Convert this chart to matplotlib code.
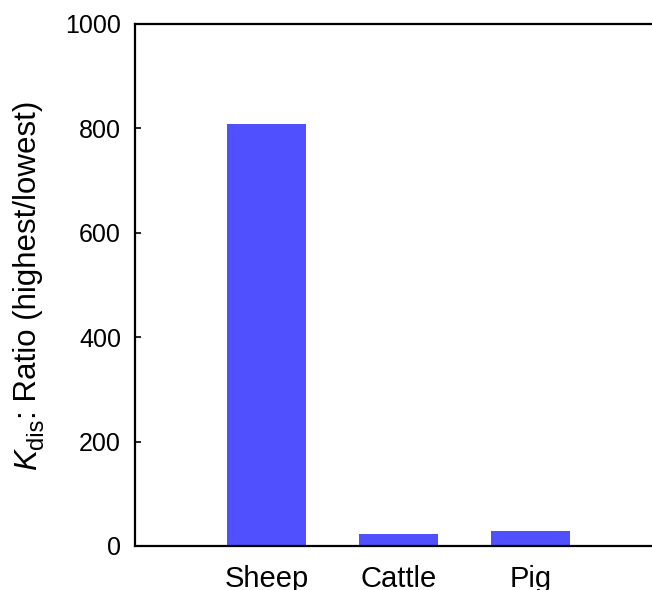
import matplotlib.pyplot as plt

# Data
species = ['Sheep', 'Cattle', 'Pig']
kdis_ratio = [808, 22, 29]
y_ticks = [0, 200, 400, 600, 800, 1000]

plt.rcParams['font.family'] = ['Liberation Sans', 'DejaVu Sans']

fig = plt.figure(figsize=(6.52, 5.90), dpi=100)
ax = fig.add_axes([0.207, 0.0746, 0.793, 0.885])

x = list(range(1, len(species) + 1))
ax.bar(x, kdis_ratio, width=0.6, color='#5050FF')

ax.set_xlim(0, 3.92)
ax.set_ylim(0, 1000)
ax.set_xticks(x)
ax.set_xticklabels(species)
ax.set_yticks(y_ticks)

# Spines: left, bottom and top only
for side in ['left', 'bottom', 'top']:
    ax.spines[side].set_linewidth(1.6)
ax.spines['right'].set_visible(False)

ax.tick_params(axis='y', direction='in', length=4, width=1.2, pad=10, labelsize=18)
ax.tick_params(axis='x', length=0, pad=14, labelsize=21)

# Y label built from pieces so the "dis" subscript keeps a near-full size
lab_size = 22.5
k_txt = fig.text(0.066, 0.203, 'K', fontsize=lab_size, style='italic',
                 rotation=90, ha='right', va='bottom')
sub_txt = ax.annotate('dis', xy=(1, 1), xycoords=k_txt,
                      xytext=(3.5, 0), textcoords='offset points',
                      fontsize=17, rotation=90, ha='right', va='bottom')
ax.annotate(': Ratio (highest/lowest)', xy=(1, 1), xycoords=(k_txt, sub_txt),
            fontsize=lab_size, rotation=90, ha='right', va='bottom')

fig.savefig('out.png', dpi=100)
